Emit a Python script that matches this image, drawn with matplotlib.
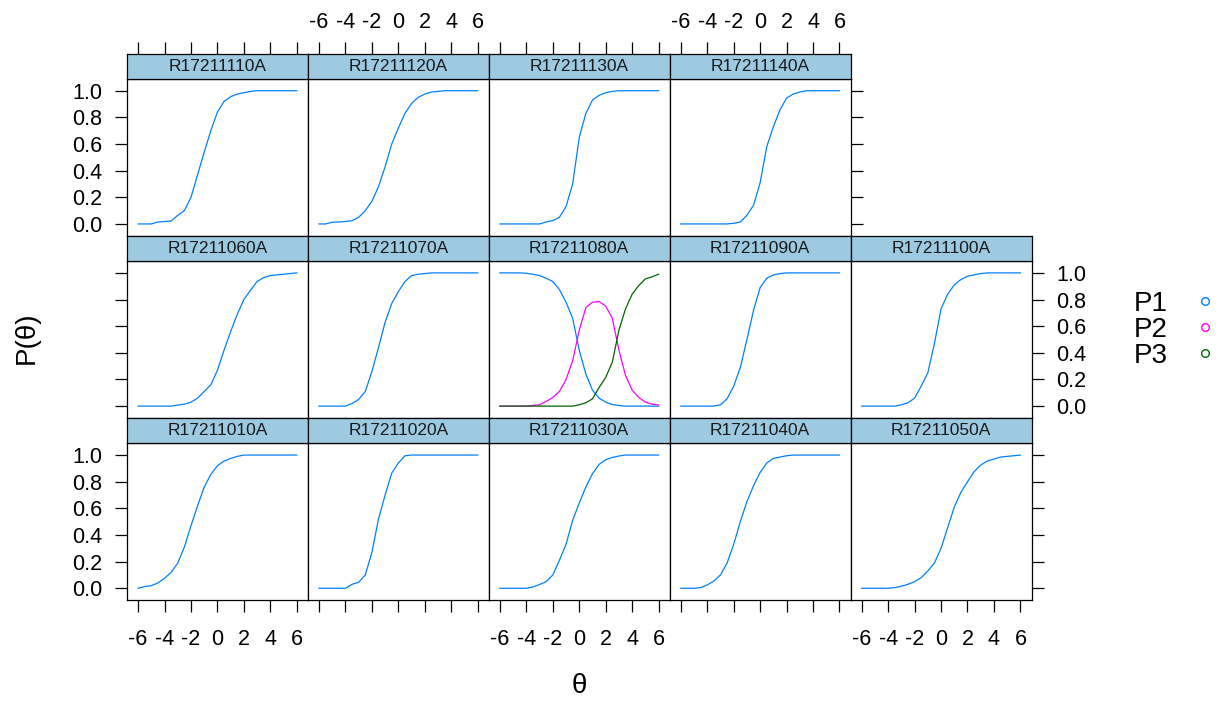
import matplotlib.pyplot as plt
from matplotlib.lines import Line2D

plt.rcParams['font.family'] = ['Liberation Sans', 'DejaVu Sans']
plt.rcParams['axes.unicode_minus'] = False

# theta grid and item characteristic curves
theta = [-6.0, -5.5, -5.0, -4.5, -4.0, -3.5, -3.0, -2.5, -2.0, -1.5, -1.0, -0.5,
         0.0, 0.5, 1.0, 1.5, 2.0, 2.5, 3.0, 3.5, 4.0, 4.5, 5.0, 5.5, 6.0]

r010 = [0, 0.013, 0.02, 0.04, 0.075, 0.12, 0.19, 0.31, 0.47, 0.62, 0.76, 0.855,
        0.92, 0.955, 0.975, 0.99, 1, 1, 1, 1, 1, 1, 1, 1, 1]
r020 = [0, 0, 0, 0, 0, 0.03, 0.045, 0.10, 0.27, 0.52, 0.70, 0.865,
        0.94, 0.995, 1, 1, 1, 1, 1, 1, 1, 1, 1, 1, 1]
r030 = [0, 0, 0, 0, 0, 0.01, 0.028, 0.05, 0.10, 0.21, 0.33, 0.51,
        0.64, 0.76, 0.86, 0.93, 0.965, 0.982, 0.993, 1, 1, 1, 1, 1, 1]
r040 = [0, 0, 0, 0.005, 0.025, 0.055, 0.10, 0.19, 0.33, 0.50, 0.65, 0.77,
        0.87, 0.94, 0.975, 0.985, 0.995, 1, 1, 1, 1, 1, 1, 1, 1]
r050 = [0, 0, 0, 0, 0, 0.005, 0.015, 0.03, 0.05, 0.08, 0.13, 0.19,
        0.30, 0.455, 0.61, 0.72, 0.80, 0.875, 0.925, 0.955, 0.97, 0.985, 0.99, 0.995, 1.0]
r060 = [0, 0, 0, 0, 0, 0, 0.008, 0.014, 0.03, 0.06, 0.11, 0.16,
        0.27, 0.42, 0.56, 0.69, 0.80, 0.87, 0.935, 0.965, 0.98, 0.985, 0.99, 0.995, 1.0]
r070 = [0, 0, 0, 0, 0, 0.02, 0.05, 0.11, 0.26, 0.44, 0.63, 0.77,
        0.86, 0.935, 0.98, 0.99, 0.995, 1, 1, 1, 1, 1, 1, 1, 1]
r080_p1 = [1, 1, 1, 1, 0.997, 0.99, 0.98, 0.96, 0.935, 0.875, 0.78, 0.66,
           0.42, 0.24, 0.12, 0.06, 0.03, 0.012, 0.005, 0, 0, 0, 0, 0, 0]
r080_p2 = [0, 0, 0, 0, 0, 0.005, 0.01, 0.035, 0.065, 0.11, 0.20, 0.34,
           0.57, 0.74, 0.78, 0.785, 0.75, 0.66, 0.42, 0.23, 0.12, 0.065, 0.03, 0.015, 0.008]
r080_p3 = [0, 0, 0, 0, 0, 0, 0, 0, 0, 0, 0, 0,
           0.01, 0.025, 0.055, 0.14, 0.215, 0.33, 0.57, 0.73, 0.84, 0.905, 0.955, 0.97, 0.99]
r090 = [0, 0, 0, 0, 0, 0, 0.01, 0.055, 0.15, 0.29, 0.50, 0.72,
        0.89, 0.96, 0.985, 0.995, 1, 1, 1, 1, 1, 1, 1, 1, 1]
r100 = [0, 0, 0, 0, 0, 0, 0.01, 0.025, 0.06, 0.15, 0.25, 0.47,
        0.73, 0.84, 0.91, 0.95, 0.975, 0.985, 0.995, 1, 1, 1, 1, 1, 1]
r110 = [0, 0, 0, 0.015, 0.018, 0.022, 0.065, 0.10, 0.20, 0.37, 0.54, 0.70,
        0.84, 0.92, 0.955, 0.975, 0.985, 0.995, 1, 1, 1, 1, 1, 1, 1]
r120 = [0, 0, 0.013, 0.015, 0.018, 0.025, 0.05, 0.10, 0.17, 0.28, 0.43, 0.60,
        0.72, 0.83, 0.905, 0.95, 0.975, 0.99, 0.995, 1, 1, 1, 1, 1, 1]
r130 = [0, 0, 0, 0, 0, 0, 0, 0.015, 0.025, 0.05, 0.13, 0.30,
        0.65, 0.83, 0.93, 0.965, 0.985, 0.995, 1, 1, 1, 1, 1, 1, 1]
r140 = [0, 0, 0, 0, 0, 0, 0, 0, 0.005, 0.015, 0.065, 0.14,
        0.31, 0.58, 0.73, 0.856, 0.945, 0.975, 0.99, 1, 1, 1, 1, 1, 1]

curves = {
    'R17211010A': [r010], 'R17211020A': [r020], 'R17211030A': [r030],
    'R17211040A': [r040], 'R17211050A': [r050], 'R17211060A': [r060],
    'R17211070A': [r070], 'R17211080A': [r080_p1, r080_p2, r080_p3],
    'R17211090A': [r090], 'R17211100A': [r100], 'R17211110A': [r110],
    'R17211120A': [r120], 'R17211130A': [r130], 'R17211140A': [r140],
}

layout = [
    ['R17211110A', 'R17211120A', 'R17211130A', 'R17211140A'],
    ['R17211060A', 'R17211070A', 'R17211080A', 'R17211090A', 'R17211100A'],
    ['R17211010A', 'R17211020A', 'R17211030A', 'R17211040A', 'R17211050A'],
]

cats = ['P1', 'P2', 'P3']
colors = ['#0080ff', '#ff00ff', '#006400']
xticks = [-6, -4, -2, 0, 2, 4, 6]
yticks = [0.0, 0.2, 0.4, 0.6, 0.8, 1.0]

W, H = 1224, 701
fig = plt.figure(figsize=(12.24, 7.01), dpi=100)


def box(px, py, w, h):
    return [px / W, 1 - (py + h) / H, w / W, h / H]


left, top = 127, 53.5
pw, rowh, sh = 180.9, 182.17, 25.5
tick_kw = dict(direction='out', length=8.6, width=0.9, labelsize=15.5, colors='black')

for r, row in enumerate(layout):
    for c, name in enumerate(row):
        ax = fig.add_axes(box(left + c * pw, top + r * rowh + sh, pw, rowh - sh))
        for i, ys in enumerate(curves[name]):
            ax.plot(theta, ys, color=colors[i], lw=0.9)
        ax.set_xlim(-6.84, 6.84)
        ax.set_ylim(-0.088, 1.088)
        ax.set_xticks(xticks)
        ax.set_yticks(yticks)
        ax.set_yticklabels(['%.1f' % v for v in yticks])
        for s in ax.spines.values():
            s.set_linewidth(0.9)
        ax.tick_params(axis='both', which='both', left=False, right=False, top=False, bottom=False,
                       labelleft=False, labelright=False, labeltop=False, labelbottom=False)
        ax.tick_params(**tick_kw)
        if c == 0:
            ax.tick_params(axis='y', left=True, labelleft=(r != 1), pad=9)
        if c == len(row) - 1:
            ax.tick_params(axis='y', right=True, labelright=(r == 1), pad=9)
        if r == len(layout) - 1:
            ax.tick_params(axis='x', bottom=True, labelbottom=(c % 2 == 0), pad=12)

        # strip
        sx = fig.add_axes(box(left + c * pw, top + r * rowh, pw, sh))
        sx.set_facecolor('#9ecae1')
        sx.set_xlim(-6.84, 6.84)
        sx.set_ylim(0, 1)
        sx.set_yticks([])
        sx.set_xticks(xticks)
        for s in sx.spines.values():
            s.set_linewidth(0.9)
        sx.tick_params(axis='x', bottom=False, labelbottom=False)
        if r == 0:
            sx.tick_params(axis='x', top=True, labeltop=(c % 2 == 1), pad=6, **tick_kw)
        sx.text(0, 0.5, name, ha='center', va='center', fontsize=12.5, color='#1a1a1a')

fig.text(579 / W, 1 - 686 / H, 'θ', ha='center', va='center', fontsize=20)
fig.text(27 / W, 1 - 338 / H, 'P(θ)', ha='center', va='center', rotation=90, fontsize=20)

handles = [Line2D([], [], ls='none', marker='o', ms=5.5, mfc='none', mec=col, mew=1.0)
           for col in colors]
fig.legend(handles, cats, loc='center left', bbox_to_anchor=(1120 / W, 1 - 330 / H),
           frameon=False, markerfirst=False, fontsize=20, handlelength=1.0,
           handletextpad=0.85, labelspacing=0.0, borderpad=0)

fig.savefig('out.png', dpi=100)
